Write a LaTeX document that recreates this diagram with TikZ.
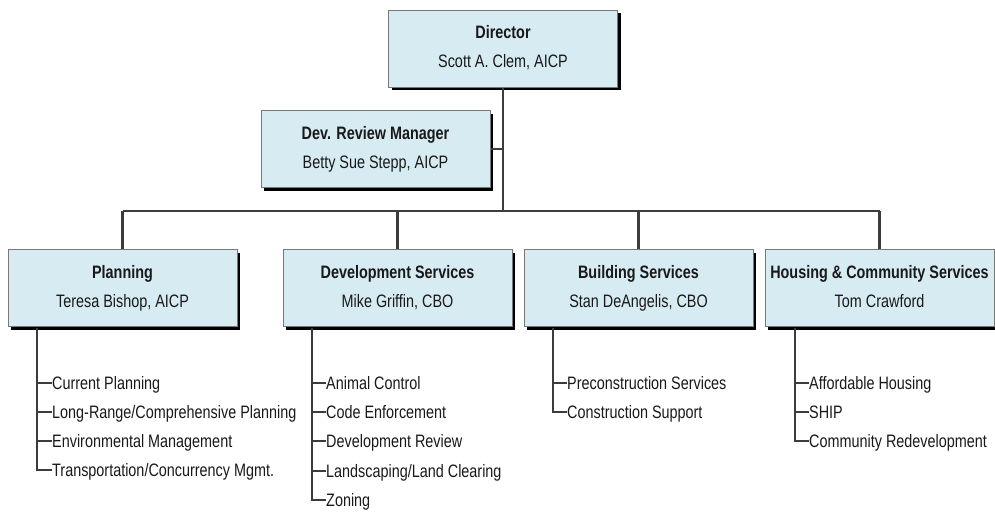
\documentclass[tikz,border=0pt]{standalone}
\usepackage{fontspec}
\setmainfont{Liberation Sans}[FakeStretch=0.8]
\usetikzlibrary{shadows}
\definecolor{boxfill}{RGB}{215,235,243}
\definecolor{boxline}{RGB}{120,120,120}
\definecolor{wire}{RGB}{60,60,60}
\definecolor{ink}{RGB}{25,25,25}
\tikzset{
  orgbox/.style={rectangle, draw=boxline, line width=1pt, fill=boxfill,
    minimum width=229pt, minimum height=77pt, inner sep=2pt, align=center,
    text=ink, font=\fontsize{18}{29}\selectfont,
    execute at end node={\rule[-4pt]{0pt}{4pt}},
    drop shadow={shadow xshift=3pt, shadow yshift=-3pt, fill=black, opacity=1}},
  item/.style={anchor=west, inner sep=0pt, text height=13pt, text depth=0pt,
    text=ink, font=\fontsize{18}{20}\selectfont},
  wireline/.style={draw=wire, line width=2.3pt},
}
\begin{document}
\begin{tikzpicture}[x=1pt, y=-1pt]
  \useasboundingbox (0,0) rectangle (995,517);
  % management boxes
  \node[orgbox] (dir) at (503,48.5) {\textbf{Director}\\Scott A. Clem, AICP};
  \node[orgbox] (drm) at (375.5,149) {\textbf{Dev. Review Manager}\\Betty Sue Stepp, AICP};
  % division boxes
  \node[orgbox] (plan) at (122.5,288) {\textbf{Planning}\\Teresa Bishop, AICP};
  \node[orgbox] (devs) at (397.5,288) {\textbf{Development Services}\\Mike Griffin, CBO};
  \node[orgbox] (bldg) at (638.5,288) {\textbf{Building Services}\\Stan DeAngelis, CBO};
  \node[orgbox] (hous) at (879.5,288) {\textbf{Housing \& Community Services}\\Tom Crawford};
  % trunk and bus
  \coordinate (bus) at (503,211);
  \draw[wireline] (dir.south) -- (bus);
  \draw[wireline] (drm.east) -- (drm.east -| dir.south);
  \draw[wireline] (plan.north |- bus) -- (hous.north |- bus);
  \foreach \d in {plan,devs,bldg,hous}
    \draw[wireline] (\d.north) -- (\d.north |- bus);
  % planning units
  \node[item] (p1) at (52,383) {Current Planning};
  \node[item] (p2) at (52,412) {Long-Range/Comprehensive Planning};
  \node[item] (p3) at (52,441) {Environmental Management};
  \node[item] (p4) at (52,470) {Transportation/Concurrency Mgmt.};
  \coordinate (pt) at (37,328);
  \draw[wireline] (pt) |- (p4.west);
  \foreach \i in {p1,p2,p3} \draw[wireline] (pt |- \i.west) -- (\i.west);
  % development services units
  \node[item] (d1) at (326,383) {Animal Control};
  \node[item] (d2) at (326,412) {Code Enforcement};
  \node[item] (d3) at (326,441) {Development Review};
  \node[item] (d4) at (326,471) {Landscaping/Land Clearing};
  \node[item] (d5) at (326,500) {Zoning};
  \coordinate (dt) at (312,328);
  \draw[wireline] (dt) |- (d5.west);
  \foreach \i in {d1,d2,d3,d4} \draw[wireline] (dt |- \i.west) -- (\i.west);
  % building services units
  \node[item] (b1) at (567,383) {Preconstruction Services};
  \node[item] (b2) at (567,412) {Construction Support};
  \coordinate (bt) at (553,328);
  \draw[wireline] (bt) |- (b2.west);
  \draw[wireline] (bt |- b1.west) -- (b1.west);
  % housing units
  \node[item] (h1) at (809,383) {Affordable Housing};
  \node[item] (h2) at (809,412) {SHIP};
  \node[item] (h3) at (809,441) {Community Redevelopment};
  \coordinate (ht) at (795,328);
  \draw[wireline] (ht) |- (h3.west);
  \foreach \i in {h1,h2} \draw[wireline] (ht |- \i.west) -- (\i.west);
\end{tikzpicture}
\end{document}
